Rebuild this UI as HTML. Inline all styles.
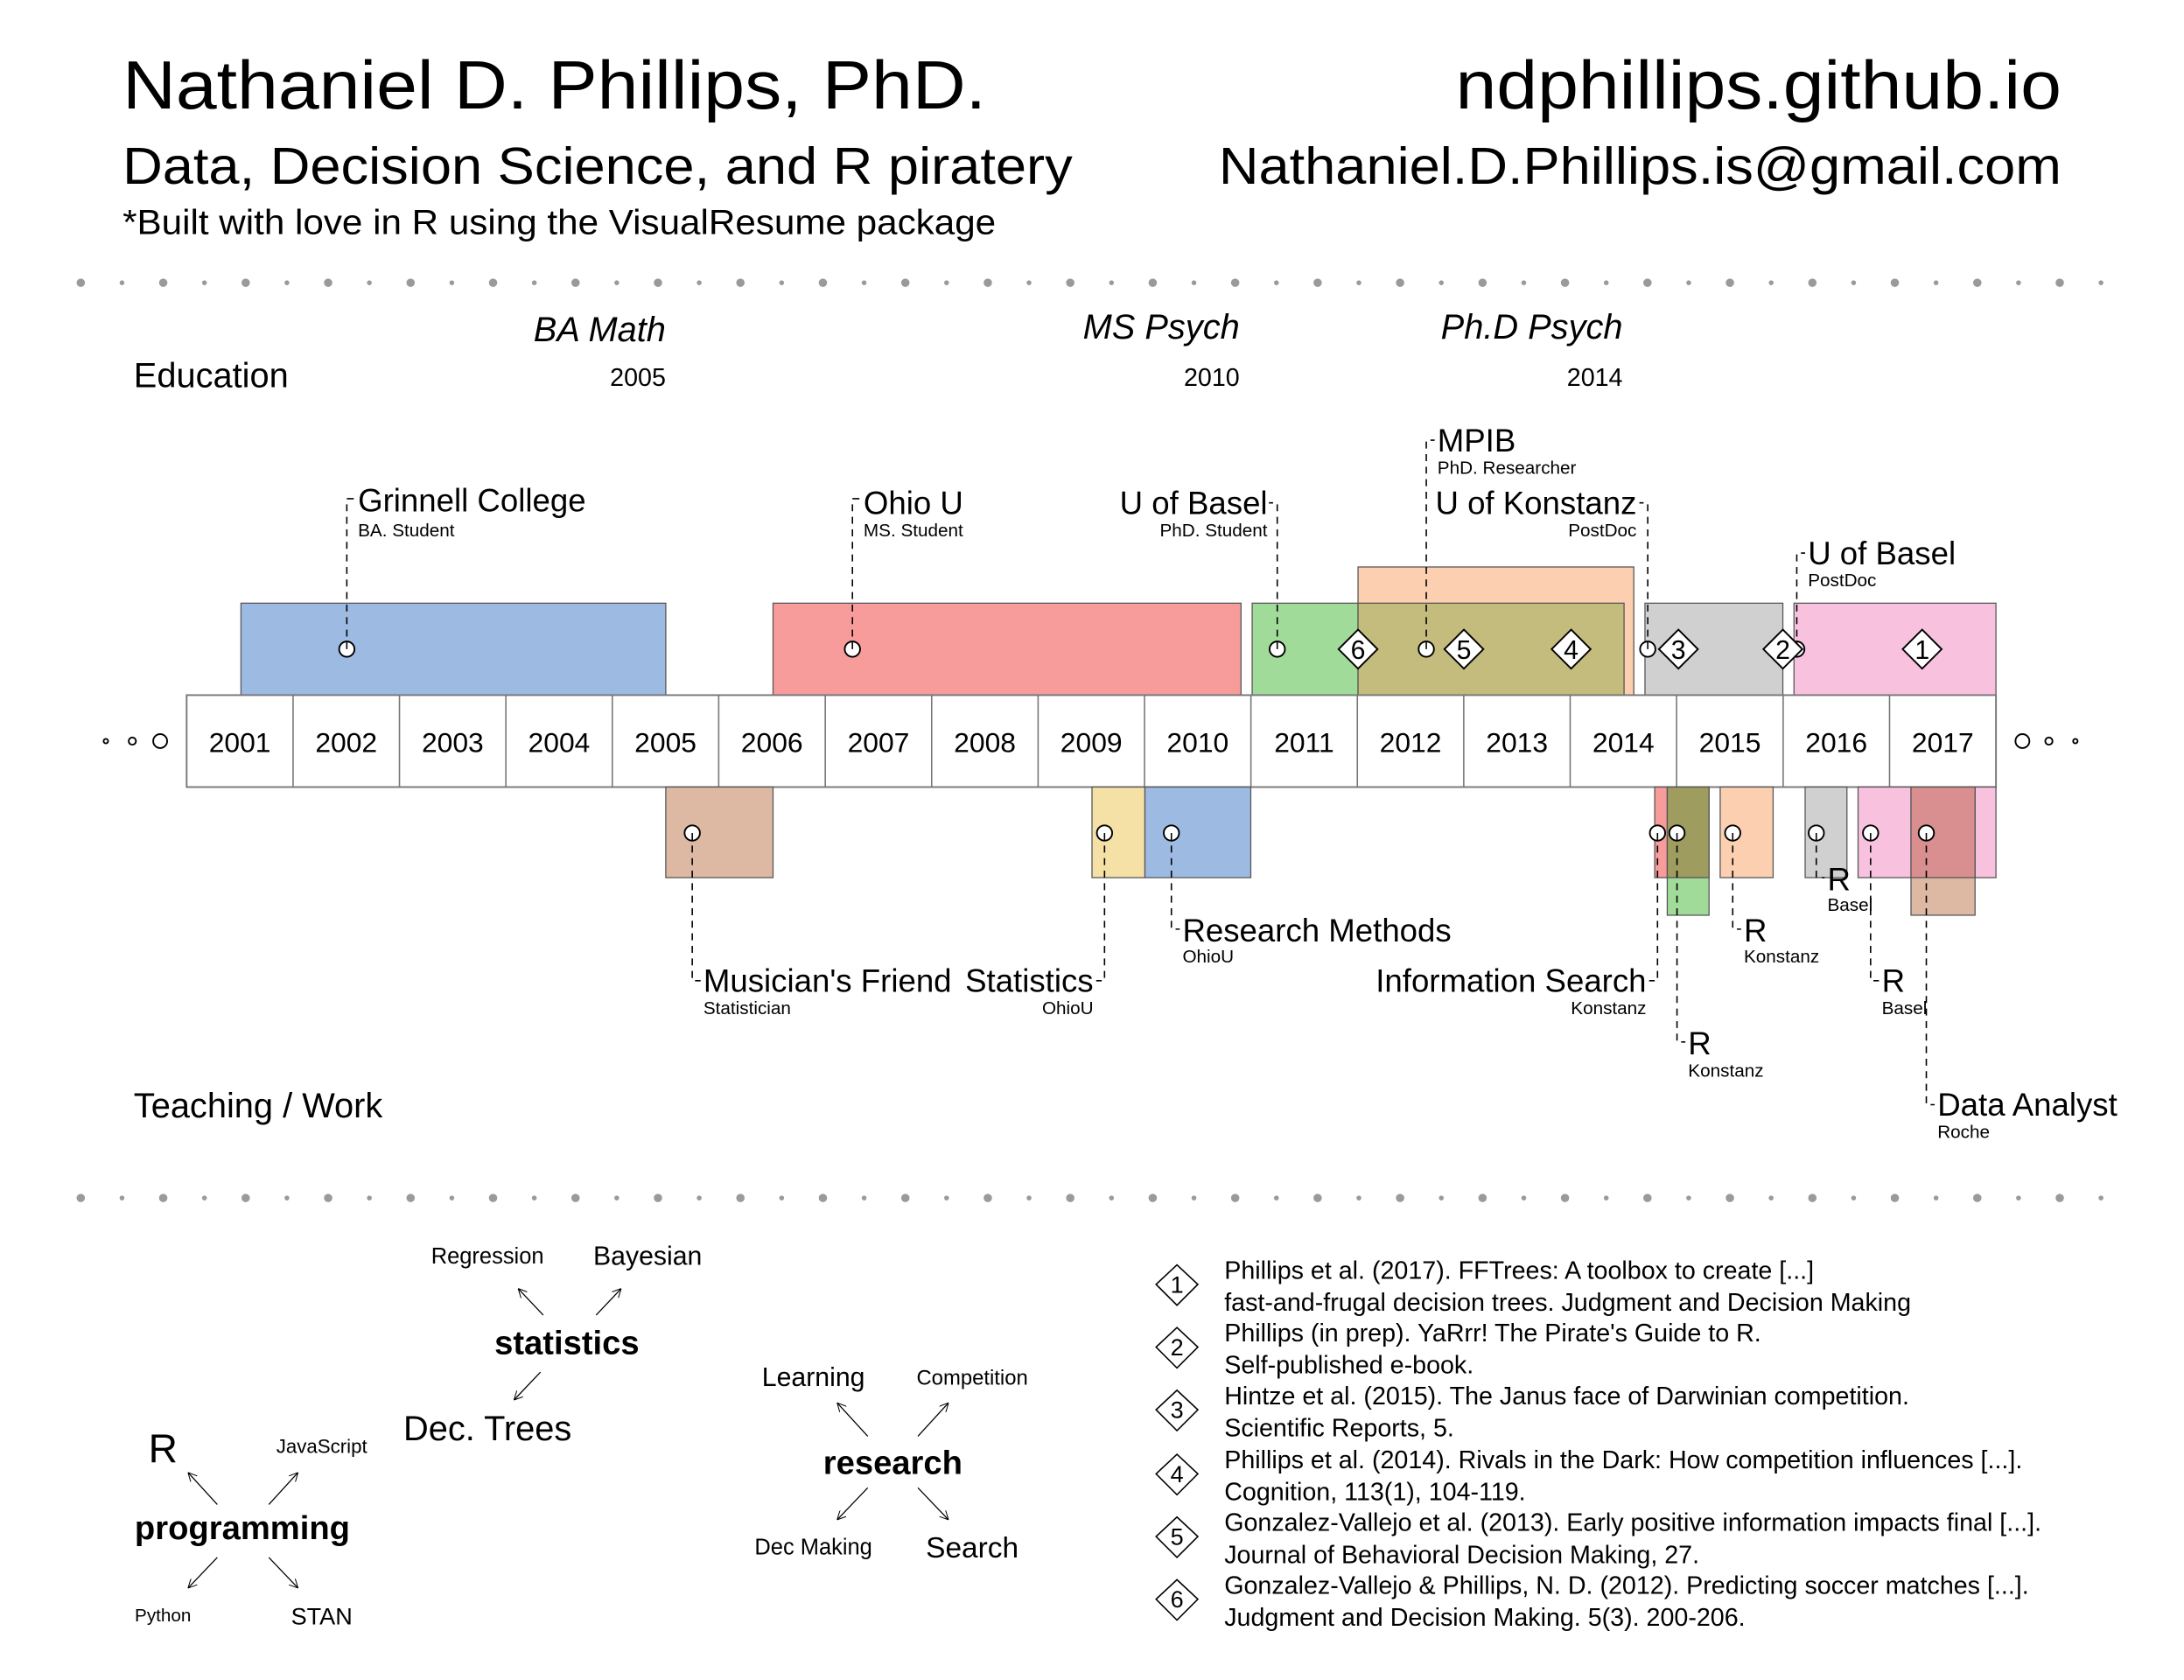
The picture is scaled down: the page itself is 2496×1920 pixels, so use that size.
<!DOCTYPE html>
<html><head><meta charset="utf-8"><style>
html,body{margin:0;padding:0;background:#fff}
svg{display:block}
text{font-family:"Liberation Sans",sans-serif;fill:#000}
.s{font-size:13px}.m{font-size:23px}
</style></head><body>
<svg width="2496" height="1920" viewBox="0 0 1568 1206" preserveAspectRatio="none" xmlns="http://www.w3.org/2000/svg">
<rect width="1568" height="1206" fill="#fff"/>
<text x="88" y="78" font-size="49" textLength="620" lengthAdjust="spacingAndGlyphs">Nathaniel D. Phillips, PhD.</text>
<text x="1045" y="78" font-size="49" textLength="435" lengthAdjust="spacingAndGlyphs">ndphillips.github.io</text>
<text x="88" y="132" font-size="37" textLength="682" lengthAdjust="spacingAndGlyphs">Data, Decision Science, and R piratery</text>
<text x="875" y="132" font-size="37" textLength="605" lengthAdjust="spacingAndGlyphs">Nathaniel.D.Phillips.is@gmail.com</text>
<text x="88" y="168" font-size="25" textLength="627" lengthAdjust="spacingAndGlyphs">*Built with love in R using the VisualResume package</text>
<g stroke="#9a9a9a" stroke-linecap="round">
<line x1="58" y1="203" x2="1512" y2="203" stroke-width="6" stroke-dasharray="0 59.2"/>
<line x1="87.6" y1="203" x2="1512" y2="203" stroke-width="3.5" stroke-dasharray="0 59.2"/>
<line x1="58" y1="860" x2="1512" y2="860" stroke-width="6" stroke-dasharray="0 59.2"/>
<line x1="87.6" y1="860" x2="1512" y2="860" stroke-width="3.5" stroke-dasharray="0 59.2"/>
</g>
<text x="96" y="278" font-size="25">Education</text>
<text x="96" y="802" font-size="25">Teaching / Work</text>
<g font-size="25" font-style="italic" text-anchor="end">
<text x="478" y="245">BA Math</text><text x="890" y="243">MS Psych</text><text x="1165" y="243">Ph.D Psych</text></g>
<g font-size="18" text-anchor="end"><text x="478" y="277">2005</text><text x="890" y="277">2010</text><text x="1165" y="277">2014</text></g>
<g stroke="#555" stroke-width="0.8">
<rect x="173" y="433" width="305" height="66" fill="#9DBAE3"/>
<rect x="555" y="433" width="336" height="66" fill="#F79B9B"/>
<rect x="899" y="433" width="267" height="66" fill="#A1DB9A"/>
<rect x="975" y="407" width="198" height="92" fill="#FBCFB0"/>
<rect x="975" y="433" width="191" height="66" fill="#C4BC7C"/>
<rect x="1181" y="433" width="99" height="66" fill="#D0D0D0"/>
<rect x="1288" y="433" width="145" height="66" fill="#F8C2DE"/>
</g>
<rect x="134" y="499" width="1299" height="66" fill="#fff" stroke="#777" stroke-width="1.2"/>
<path stroke="#777" stroke-width="1" d="M210.4 499V565M286.8 499V565M363.2 499V565M439.6 499V565M516 499V565M592.5 499V565M668.9 499V565M745.3 499V565M821.7 499V565M898.1 499V565M974.5 499V565M1050.9 499V565M1127.3 499V565M1203.7 499V565M1280.2 499V565M1356.6 499V565"/>
<g font-size="20" text-anchor="middle">
<text x="172.2" y="540">2001</text><text x="248.6" y="540">2002</text><text x="325" y="540">2003</text><text x="401.4" y="540">2004</text><text x="477.8" y="540">2005</text><text x="554.2" y="540">2006</text><text x="630.7" y="540">2007</text><text x="707.1" y="540">2008</text><text x="783.5" y="540">2009</text><text x="859.9" y="540">2010</text><text x="936.3" y="540">2011</text><text x="1012.7" y="540">2012</text><text x="1089.1" y="540">2013</text><text x="1165.5" y="540">2014</text><text x="1242" y="540">2015</text><text x="1318.4" y="540">2016</text><text x="1394.8" y="540">2017</text></g>
<g fill="#fff" stroke="#000" stroke-width="1.2">
<circle cx="76" cy="532" r="1.6"/><circle cx="95" cy="532" r="2.6"/><circle cx="115" cy="532" r="5"/>
<circle cx="1452" cy="532" r="5"/><circle cx="1471" cy="532" r="2.6"/><circle cx="1490" cy="532" r="1.6"/></g>
<g stroke="#555" stroke-width="0.8">
<rect x="478" y="565" width="77" height="65" fill="#DDB9A4"/>
<rect x="784" y="565" width="38" height="65" fill="#F5E0A5"/>
<rect x="822" y="565" width="76" height="65" fill="#9DBAE3"/>
<rect x="1197" y="565" width="30" height="92" fill="#A1DB9A"/>
<rect x="1188" y="565" width="9" height="65" fill="#F79B9B"/>
<rect x="1197" y="565" width="30" height="65" fill="#9E9C5E"/>
<rect x="1235" y="565" width="38" height="65" fill="#FBCFB0"/>
<rect x="1296" y="565" width="30" height="65" fill="#D0D0D0"/>
<rect x="1334" y="565" width="99" height="65" fill="#F8C2DE"/>
<rect x="1372" y="565" width="46" height="92" fill="#DDB9A4"/>
<rect x="1372" y="565" width="46" height="65" fill="#D98F8F"/>
</g>
<g stroke="#000" stroke-width="1" stroke-dasharray="5 4" fill="none">
<path d="M249 466V358H255"/><path d="M612 466V358H618"/><path d="M917 466V361H911"/>
<path d="M1024 466V316H1030"/><path d="M1183 466V361H1177"/><path d="M1290 466V397H1296"/>
<path d="M497 598V704H503"/><path d="M793 598V704H787"/><path d="M841 598V667H847"/>
<path d="M1190 598V704H1184"/><path d="M1204 598V748H1210"/><path d="M1244 598V667H1250"/>
<path d="M1304 598V630H1310"/><path d="M1343 598V704H1349"/><path d="M1383 598V793H1389"/>
</g>
<g fill="#fff" stroke="#000" stroke-width="1.2">
<circle cx="249" cy="466" r="5.5"/><circle cx="612" cy="466" r="5.5"/><circle cx="917" cy="466" r="5.5"/><circle cx="1024" cy="466" r="5.5"/><circle cx="1183" cy="466" r="5.5"/><circle cx="1290" cy="466" r="5.5"/>
<circle cx="497" cy="598" r="5.5"/><circle cx="793" cy="598" r="5.5"/><circle cx="841" cy="598" r="5.5"/><circle cx="1190" cy="598" r="5.5"/><circle cx="1204" cy="598" r="5.5"/><circle cx="1244" cy="598" r="5.5"/><circle cx="1304" cy="598" r="5.5"/><circle cx="1343" cy="598" r="5.5"/><circle cx="1383" cy="598" r="5.5"/>
</g>
<g stroke="#000" stroke-width="1"><path d="M249 466V461M612 466V461M917 466V461M1024 466V461M1183 466V461M1290 466V461M497 598V603M793 598V603M841 598V603M1190 598V603M1204 598V603M1244 598V603M1304 598V603M1343 598V603M1383 598V603"/></g>
<g fill="#fff" stroke="#000" stroke-width="1.2">
<path d="M975 452L989 466L975 480L961 466Z"/><path d="M1051 452L1065 466L1051 480L1037 466Z"/><path d="M1128 452L1142 466L1128 480L1114 466Z"/><path d="M1205 452L1219 466L1205 480L1191 466Z"/><path d="M1280 452L1294 466L1280 480L1266 466Z"/><path d="M1380 452L1394 466L1380 480L1366 466Z"/></g>
<g font-size="19" text-anchor="middle"><text x="975" y="473">6</text><text x="1051" y="473">5</text><text x="1128" y="473">4</text><text x="1205" y="473">3</text><text x="1280" y="473">2</text><text x="1380" y="473">1</text></g>
<text class="m" x="257" y="367">Grinnell College</text><text class="s" x="257" y="385">BA. Student</text>
<text class="m" x="620" y="369">Ohio U</text><text class="s" x="620" y="385">MS. Student</text>
<text class="m" x="910" y="369" text-anchor="end">U of Basel</text><text class="s" x="910" y="385" text-anchor="end">PhD. Student</text>
<text class="m" x="1032" y="324">MPIB</text><text class="s" x="1032" y="340">PhD. Researcher</text>
<text class="m" x="1175" y="369" text-anchor="end">U of Konstanz</text><text class="s" x="1175" y="385" text-anchor="end">PostDoc</text>
<text class="m" x="1298" y="405">U of Basel</text><text class="s" x="1298" y="421">PostDoc</text>
<text class="m" x="505" y="712">Musician's Friend</text><text class="s" x="505" y="728">Statistician</text>
<text class="m" x="785" y="712" text-anchor="end">Statistics</text><text class="s" x="785" y="728" text-anchor="end">OhioU</text>
<text class="m" x="849" y="676">Research Methods</text><text class="s" x="849" y="691">OhioU</text>
<text class="m" x="1182" y="712" text-anchor="end">Information Search</text><text class="s" x="1182" y="728" text-anchor="end">Konstanz</text>
<text class="m" x="1212" y="757">R</text><text class="s" x="1212" y="773">Konstanz</text>
<text class="m" x="1252" y="676">R</text><text class="s" x="1252" y="691">Konstanz</text>
<text class="m" x="1312" y="639">R</text><text class="s" x="1312" y="654">Basel</text>
<text class="m" x="1351" y="712">R</text><text class="s" x="1351" y="728">Basel</text>
<text class="m" x="1391" y="801">Data Analyst</text><text class="s" x="1391" y="817">Roche</text>
<defs><marker id="a" viewBox="0 0 10 10" refX="10" refY="5" markerWidth="8" markerHeight="8" orient="auto"><path d="M0 0L10 5L0 10" fill="none" stroke="#000" stroke-width="1"/></marker></defs>
<g stroke="#000" stroke-width="0.8" marker-end="url(#a)">
<line x1="390" y1="944" x2="372" y2="925"/><line x1="428" y1="944" x2="446" y2="925"/><line x1="388" y1="985" x2="369" y2="1005"/>
<line x1="156" y1="1080" x2="135" y2="1057"/><line x1="193" y1="1080" x2="214" y2="1057"/><line x1="156" y1="1118" x2="135" y2="1140"/><line x1="193" y1="1118" x2="214" y2="1140"/>
<line x1="623" y1="1031" x2="601" y2="1007"/><line x1="659" y1="1031" x2="681" y2="1007"/><line x1="623" y1="1068" x2="601" y2="1091"/><line x1="659" y1="1068" x2="681" y2="1091"/>
</g>
<g text-anchor="middle">
<text x="407" y="972" font-size="24" font-weight="bold">statistics</text>
<text x="350" y="907" font-size="16">Regression</text><text x="465" y="908" font-size="19">Bayesian</text>
<text x="350" y="1034" font-size="25">Dec. Trees</text>
<text x="174" y="1105" font-size="24" font-weight="bold">programming</text>
<text x="117" y="1050" font-size="29">R</text><text x="231" y="1043" font-size="14">JavaScript</text>
<text x="117" y="1164" font-size="13">Python</text><text x="231" y="1166" font-size="17">STAN</text>
<text x="641" y="1058" font-size="24" font-weight="bold">research</text>
<text x="584" y="995" font-size="19">Learning</text><text x="698" y="994" font-size="15">Competition</text>
<text x="584" y="1116" font-size="16">Dec Making</text><text x="698" y="1118" font-size="21">Search</text>
</g>
<g fill="#fff" stroke="#000" stroke-width="1">
<path d="M845 908L860 922L845 937L830 922Z"/><path d="M845 953L860 967L845 982L830 967Z"/><path d="M845 998L860 1012L845 1027L830 1012Z"/><path d="M845 1044L860 1058L845 1073L830 1058Z"/><path d="M845 1089L860 1103L845 1118L830 1103Z"/><path d="M845 1134L860 1148L845 1163L830 1148Z"/></g>
<g font-size="17" text-anchor="middle"><text x="845" y="928">1</text><text x="845" y="973">2</text><text x="845" y="1018">3</text><text x="845" y="1064">4</text><text x="845" y="1109">5</text><text x="845" y="1154">6</text></g>
<g font-size="18">
<text x="879" y="918">Phillips et al. (2017). FFTrees: A toolbox to create [...]</text>
<text x="879" y="941"> fast-and-frugal decision trees. Judgment and Decision Making</text>
<text x="879" y="963">Phillips (in prep). YaRrr! The Pirate's Guide to R.</text>
<text x="879" y="986">Self-published e-book.</text>
<text x="879" y="1008">Hintze et al. (2015). The Janus face of Darwinian competition.</text>
<text x="879" y="1031">Scientific Reports, 5.</text>
<text x="879" y="1054">Phillips et al. (2014). Rivals in the Dark: How competition influences [...].</text>
<text x="879" y="1077">Cognition, 113(1), 104-119.</text>
<text x="879" y="1099">Gonzalez-Vallejo et al. (2013). Early positive information impacts final [...].</text>
<text x="879" y="1122">Journal of Behavioral Decision Making, 27.</text>
<text x="879" y="1144">Gonzalez-Vallejo &amp; Phillips, N. D. (2012). Predicting soccer matches [...].</text>
<text x="879" y="1167">Judgment and Decision Making. 5(3). 200-206.</text>
</g>
</svg>
</body></html>
